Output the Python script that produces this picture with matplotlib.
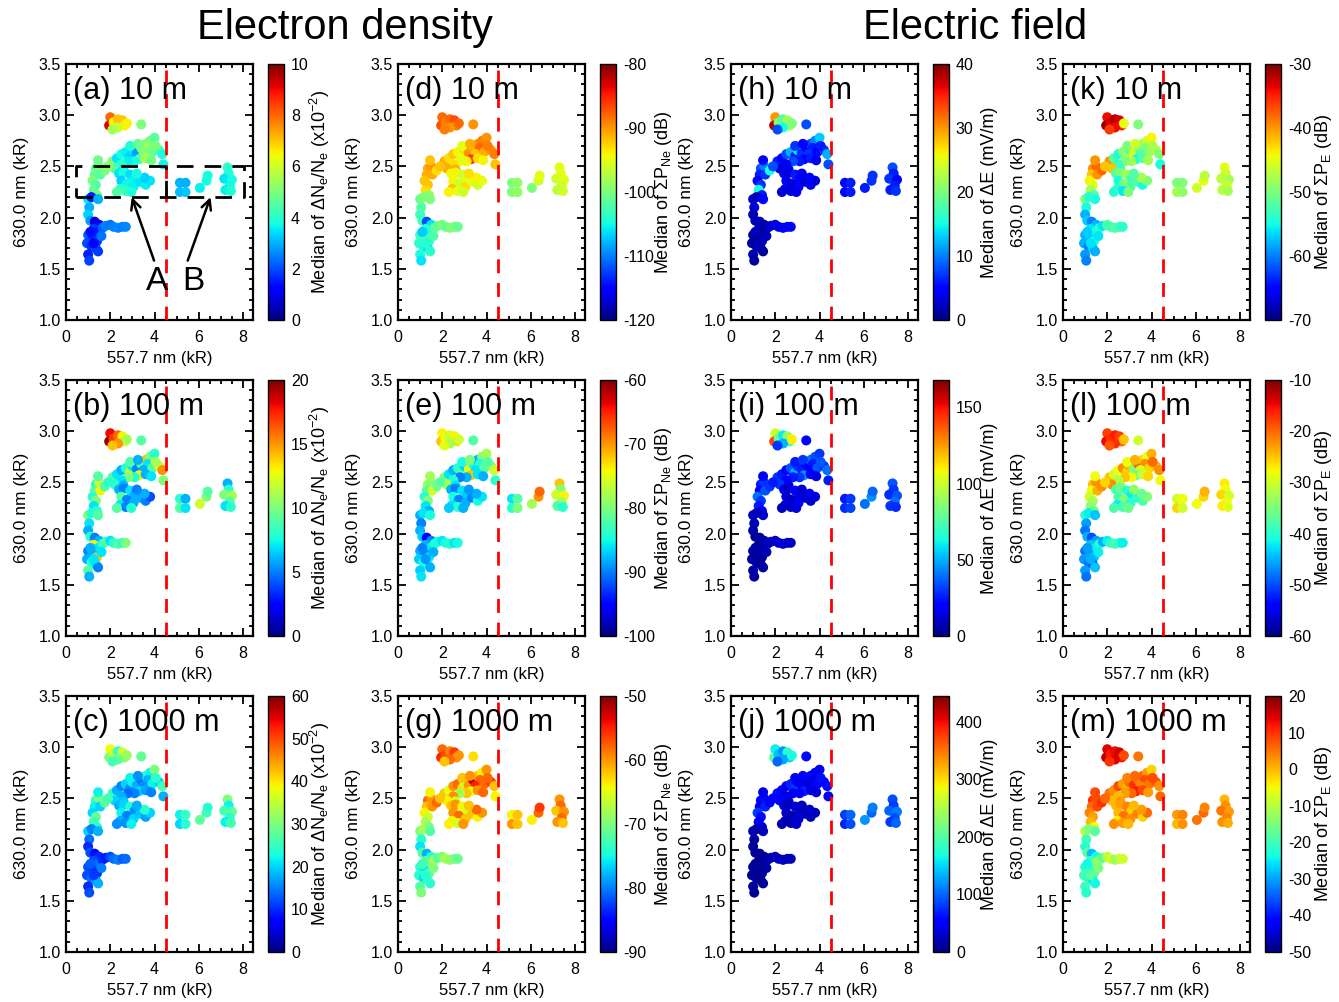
import matplotlib
matplotlib.use('Agg')
import matplotlib.pyplot as plt
import numpy as np

plt.rcParams['font.family'] = ['Liberation Sans', 'DejaVu Sans']
plt.rcParams['mathtext.default'] = 'regular'
plt.rcParams['axes.unicode_minus'] = False

# ---------------- point positions (557.7 nm, 630.0 nm) ----------------
# groups: top(10), upper arm(28), mid box A(16), left arm(11), low(24), blob(5), box B(14)
x_vals = ([2.0, 1.95, 2.15, 2.35, 2.55, 2.65, 2.35, 2.1, 2.75, 3.4] +
          [2.1, 2.3, 2.5, 2.7, 2.9, 3.0, 3.2, 3.4, 3.6, 3.8, 4.0, 3.7, 3.5, 3.3, 3.1, 2.8,
           2.5, 3.9, 4.2, 4.35, 4.4, 3.6, 3.85, 2.2, 2.9, 3.25, 4.05, 2.6] +
          [2.4, 2.6, 2.9, 3.1, 2.5, 2.75, 3.05, 2.45, 2.7, 2.95, 3.35, 3.6, 3.8, 3.55, 3.2, 2.3] +
          [1.35, 1.5, 1.3, 1.2, 1.35, 1.25, 1.4, 1.55, 1.75, 1.9, 1.45] +
          [1.0, 1.15, 1.45, 1.05, 1.0, 1.1, 1.3, 1.5, 1.25, 1.45, 1.65, 1.8, 1.0, 1.2, 1.4, 1.6,
           0.95, 1.15, 1.35, 1.45, 1.0, 1.05, 1.25, 1.1] +
          [2.0, 2.15, 2.35, 2.55, 2.7] +
          [5.15, 5.4, 5.15, 5.4, 6.05, 6.35, 6.4, 7.3, 7.35, 7.15, 7.5, 7.4, 7.2, 7.45])
y_vals = ([2.98, 2.90, 2.93, 2.96, 2.95, 2.90, 2.88, 2.86, 2.92, 2.91] +
          [2.55, 2.58, 2.62, 2.64, 2.60, 2.66, 2.63, 2.68, 2.72, 2.75, 2.78, 2.68, 2.62, 2.57, 2.55, 2.55,
           2.52, 2.64, 2.66, 2.62, 2.52, 2.58, 2.56, 2.48, 2.70, 2.72, 2.70, 2.47] +
          [2.43, 2.44, 2.42, 2.38, 2.36, 2.33, 2.30, 2.28, 2.26, 2.25, 2.35, 2.32, 2.36, 2.39, 2.43, 2.25] +
          [2.48, 2.50, 2.42, 2.36, 2.32, 2.27, 2.22, 2.42, 2.46, 2.50, 2.56] +
          [2.18, 2.20, 2.18, 2.10, 2.03, 1.97, 1.96, 1.93, 1.89, 1.86, 1.90, 1.92, 1.83, 1.80, 1.77, 1.82,
           1.75, 1.72, 1.70, 1.67, 1.64, 1.58, 1.75, 1.86] +
          [1.93, 1.91, 1.90, 1.91, 1.91] +
          [2.34, 2.34, 2.25, 2.25, 2.29, 2.36, 2.41, 2.49, 2.43, 2.38, 2.37, 2.31, 2.27, 2.26])

# ---------------- colour values per panel ----------------
vals_a = ([8.0, 9.2, 6.5, 7.0, 7.0, 6.5, 6.0, 5.5, 6.5, 5.0] +
          [5.0, 3.5, 3.8, 3.6, 3.3, 3.5, 2.8, 5.0, 5.2, 5.0, 4.6, 5.3, 5.0, 4.5, 3.8, 3.6,
           4.0, 4.8, 4.3, 3.8, 3.7, 5.5, 4.9, 4.5, 3.9, 4.8, 5.0, 3.5] +
          [3.5, 3.8, 3.4, 3.6, 3.3, 3.7, 3.6, 4.0, 4.2, 3.9, 3.5, 3.6, 3.5, 3.3, 3.8, 4.5] +
          [4.6, 5.0, 4.8, 5.0, 4.5, 4.7, 4.9, 4.5, 5.0, 5.2, 4.8] +
          [3.5, 1.5, 3.0, 3.0, 3.3, 2.8, 0.8, 1.2, 1.8, 1.5, 2.2, 2.5, 2.2, 1.6, 1.8, 2.4,
           2.0, 1.7, 1.9, 1.8, 1.6, 1.9, 1.3, 1.4] +
          [2.4, 2.5, 2.6, 2.5, 2.6] +
          [3.0, 3.0, 3.1, 3.2, 3.6, 3.8, 3.8, 4.0, 3.9, 3.5, 3.8, 3.7, 3.6, 3.9])
vals_b = ([18, 19.5, 17, 16, 13, 12, 15, 14, 11, 9] +
          [9, 7, 6, 8, 12, 7, 5, 9, 14, 10, 8, 7, 6, 13, 8, 10, 7, 9, 12, 15, 10, 6, 7, 8, 9, 6, 11, 6] +
          [6, 5, 7, 6, 9, 5, 6, 7, 5, 8, 6, 5, 4, 6, 5, 9] +
          [8, 12, 9, 8, 10, 7, 8, 13, 9, 8, 9] +
          [10, 8, 9, 7, 6, 8, 5, 6, 13, 7, 8, 9, 5, 6, 14, 7, 6, 8, 7, 5, 9, 6, 7, 6] +
          [7, 8, 9, 8, 10] +
          [8, 6, 9, 7, 12, 10, 9, 6, 8, 10, 11, 9, 7, 8])
vals_c = ([38, 30, 35, 25, 36, 30, 28, 26, 32, 28] +
          [25, 18, 15, 20, 16, 22, 18, 14, 24, 22, 30, 18, 16, 20, 15, 14, 18, 22, 20, 26, 18, 17, 15, 20,
           22, 16, 24, 19] +
          [18, 20, 24, 16, 22, 15, 20, 18, 16, 22, 19, 17, 20, 24, 18, 16] +
          [25, 30, 22, 20, 28, 26, 24, 20, 28, 26, 22] +
          [20, 15, 18, 14, 10, 12, 8, 10, 12, 14, 10, 9, 12, 11, 10, 15, 12, 14, 16, 18, 10, 12, 11, 13] +
          [12, 14, 15, 13, 14] +
          [22, 25, 20, 24, 28, 26, 24, 30, 22, 26, 28, 24, 22, 26])
vals_d = ([-88, -87, -89, -88, -87, -89, -90, -89, -88, -90] +
          [-91, -93, -92, -94, -95, -93, -90, -91, -90, -89, -90, -88, -92, -86, -94, -95, -93, -91,
           -90, -89, -92, -93, -94, -91, -95, -91, -89, -91] +
          [-95, -94, -96, -95, -94, -96, -93, -92, -95, -96, -95, -96, -95, -94, -93, -94] +
          [-91, -90, -91, -92, -92, -93, -99, -91, -93, -92, -92] +
          [-101, -100, -100, -102, -103, -103, -112, -106, -104, -105, -102, -101, -103, -103, -104,
           -102, -104, -105, -106, -104, -105, -106, -104, -107] +
          [-100, -101, -100, -100, -101] +
          [-100, -99, -100, -99, -100, -96, -95, -95, -95, -96, -95, -96, -97, -96])
vals_e = ([-74, -72, -75, -76, -74, -73, -78, -75, -76, -82] +
          [-80, -86, -88, -84, -82, -87, -75, -85, -88, -80, -78, -84, -86, -72, -88, -90, -84, -82,
           -80, -76, -84, -86, -88, -78, -85, -80, -82, -86] +
          [-88, -90, -86, -87, -85, -90, -88, -86, -84, -88, -90, -85, -86, -88, -89, -87] +
          [-78, -80, -82, -84, -80, -86, -88, -76, -80, -82, -78] +
          [-88, -86, -85, -90, -88, -87, -95, -90, -88, -86, -84, -85, -88, -90, -86, -88, -87, -85,
           -84, -88, -87, -86, -89, -90] +
          [-86, -85, -84, -86, -85] +
          [-86, -82, -84, -80, -78, -70, -68, -72, -80, -76, -74, -78, -82, -84])
vals_g = ([-58, -55, -57, -59, -56, -60, -58, -62, -60, -63] +
          [-62, -65, -60, -58, -63, -66, -60, -52, -62, -64, -60, -58, -55, -65, -62, -68, -60, -58,
           -56, -62, -64, -60, -58, -64, -62, -60, -58, -66] +
          [-62, -60, -64, -66, -60, -58, -62, -64, -66, -60, -62, -64, -60, -58, -62, -64] +
          [-58, -60, -62, -64, -66, -68, -70, -60, -58, -62, -64] +
          [-70, -68, -72, -74, -76, -72, -78, -74, -72, -70, -68, -72, -74, -76, -72, -70, -74, -76,
           -72, -74, -72, -70, -74, -73] +
          [-70, -68, -69, -70, -71] +
          [-64, -62, -60, -62, -64, -58, -56, -60, -58, -62, -60, -58, -60, -62])
vals_h = ([30, 38, 20, 18, 22, 22, 15, 8, 20, 8] +
          [6, 5, 8, 12, 6, 14, 7, 5, 8, 10, 13, 6, 7, 5, 6, 8, 4, 5, 7, 12, 8, 6, 4, 3, 7, 5, 6, 5] +
          [4, 3, 6, 5, 4, 3, 5, 4, 3, 4, 3, 4, 3, 5, 4, 3] +
          [8, 10, 6, 5, 7, 15, 6, 7, 15, 8, 5] +
          [3, 2, 5, 3, 2, 2, 2, 1, 2, 1, 2, 3, 1, 1, 2, 2, 1, 1, 2, 1, 2, 1, 2, 2] +
          [3, 4, 4, 5, 5] +
          [5, 6, 5, 6, 6, 7, 7, 8, 6, 7, 5, 6, 6, 7])
vals_i = ([100, 140, 80, 60, 90, 70, 50, 30, 110, 20] +
          [30, 25, 20, 35, 50, 30, 25, 20, 40, 35, 30, 25, 20, 45, 30, 25, 20, 35, 30, 40, 25, 20, 15,
           30, 25, 30, 35, 20] +
          [15, 10, 20, 15, 12, 10, 18, 14, 10, 15, 12, 10, 14, 16, 12, 10] +
          [25, 30, 20, 40, 30, 25, 20, 35, 30, 25, 20] +
          [10, 8, 12, 8, 6, 5, 4, 6, 5, 6, 8, 10, 5, 4, 6, 8, 5, 6, 4, 5, 6, 5, 4, 6] +
          [10, 12, 14, 12, 10] +
          [25, 30, 28, 32, 40, 45, 38, 35, 30, 28, 35, 40, 30, 28])
vals_j = ([160, 200, 140, 120, 180, 150, 130, 100, 170, 60] +
          [60, 50, 40, 70, 80, 55, 45, 35, 60, 50, 45, 40, 35, 70, 50, 45, 40, 55, 50, 60, 45, 40, 35,
           50, 45, 55, 60, 40] +
          [30, 25, 35, 30, 25, 20, 30, 25, 20, 30, 25, 20, 25, 30, 25, 20] +
          [50, 60, 40, 80, 60, 45, 35, 70, 55, 50, 45] +
          [20, 15, 25, 15, 10, 12, 8, 10, 12, 10, 15, 18, 10, 8, 12, 15, 10, 12, 8, 10, 12, 10, 8, 12] +
          [20, 25, 28, 25, 22] +
          [80, 100, 70, 90, 120, 100, 110, 90, 80, 100, 110, 90, 80, 100])
vals_k = ([-34, -31, -33, -32, -33, -35, -34, -36, -45, -50] +
          [-40, -52, -55, -50, -48, -52, -45, -50, -48, -46, -44, -50, -52, -55, -48, -50, -53, -49,
           -47, -50, -55, -52, -48, -42, -50, -46, -48, -53] +
          [-52, -50, -48, -53, -55, -50, -52, -54, -56, -50, -52, -55, -50, -48, -52, -54] +
          [-40, -38, -42, -44, -45, -48, -52, -40, -38, -42, -40] +
          [-50, -54, -55, -55, -58, -57, -60, -58, -56, -55, -54, -56, -58, -57, -55, -56, -58, -60,
           -57, -58, -59, -60, -56, -57] +
          [-52, -53, -52, -53, -54] +
          [-50, -50, -48, -49, -46, -45, -47, -45, -46, -47, -48, -46, -47, -48])
vals_l = ([-18, -15, -17, -16, -18, -20, -17, -19, -25, -30] +
          [-25, -30, -28, -22, -26, -24, -35, -20, -26, -28, -24, -22, -30, -36, -28, -25, -32, -26,
           -24, -22, -28, -30, -26, -22, -28, -24, -20, -32] +
          [-38, -36, -40, -42, -38, -35, -40, -42, -38, -36, -40, -38, -35, -36, -34, -38] +
          [-25, -22, -28, -30, -32, -34, -36, -24, -22, -26, -28] +
          [-40, -42, -44, -46, -48, -45, -50, -46, -44, -42, -40, -45, -48, -46, -44, -42, -46, -48,
           -50, -44, -46, -48, -45, -46] +
          [-42, -40, -38, -40, -42] +
          [-30, -28, -26, -30, -28, -26, -24, -27, -28, -26, -30, -28, -27, -29])
vals_m = ([14, 16, 12, 13, 15, 12, 14, 10, 8, 5] +
          [5, 3, 8, 2, 0, 6, 10, 4, 6, 2, -2, 8, 4, 12, 6, 2, 0, 5, 7, 3, 6, 8, 2, 0, 4, 6, 8, 2] +
          [0, 2, 4, -2, 0, 5, 3, -4, 2, 0, 4, -2, 6, 2, 0, 3] +
          [10, 8, 6, 4, 2, 0, -5, 8, 10, 6, 8] +
          [-10, -15, -18, -20, -22, -18, -28, -24, -20, -15, -12, -18, -22, -20, -18, -15, -20, -22,
           -25, -24, -20, -22, -18, -24] +
          [-10, -8, -12, -10, -8] +
          [2, 4, 0, 3, 5, 6, 4, 0, 3, 5, 2, 4, 3, 1])

panel_labels = [['(a) 10 m', '(b) 100 m', '(c) 1000 m'],
                ['(d) 10 m', '(e) 100 m', '(g) 1000 m'],
                ['(h) 10 m', '(i) 100 m', '(j) 1000 m'],
                ['(k) 10 m', '(l) 100 m', '(m) 1000 m']]
panel_vals = [[vals_a, vals_b, vals_c], [vals_d, vals_e, vals_g],
              [vals_h, vals_i, vals_j], [vals_k, vals_l, vals_m]]
clims = [[(0, 10), (0, 20), (0, 60)], [(-120, -80), (-100, -60), (-90, -50)],
         [(0, 40), (0, 168), (0, 445)], [(-70, -30), (-60, -10), (-50, 20)]]
cticks = [[[0, 2, 4, 6, 8, 10], [0, 5, 10, 15, 20], [0, 10, 20, 30, 40, 50, 60]],
          [[-120, -110, -100, -90, -80], [-100, -90, -80, -70, -60], [-90, -80, -70, -60, -50]],
          [[0, 10, 20, 30, 40], [0, 50, 100, 150], [0, 100, 200, 300, 400]],
          [[-70, -60, -50, -40, -30], [-60, -50, -40, -30, -20, -10], [-50, -40, -30, -20, -10, 0, 10, 20]]]
cbar_labels = ['Median of ΔN$_e$/N$_e$ (x10$^{-2}$)', 'Median of ΣP$_{Ne}$ (dB)',
               'Median of ΔE (mV/m)', 'Median of ΣP$_E$ (dB)']
col_titles = ['Electron density', 'Electric field']

W, H = 1339, 1002
fig = plt.figure(figsize=(W / 100, H / 100), dpi=100)


def fr(left, top, w, h):
    return [left / W, 1 - (top + h) / H, w / W, h / H]


col_left = [66, 398, 731, 1063]
row_top = [64, 380, 696]
ax_w, ax_h = 187, 256
cb_off = [52, 64, 57, 58]

for c in range(4):
    for r in range(3):
        ax = fig.add_axes(fr(col_left[c], row_top[r], ax_w, ax_h))
        vmin, vmax = clims[c][r]
        sc = ax.scatter(x_vals, y_vals, c=panel_vals[c][r], cmap='jet', vmin=vmin, vmax=vmax,
                        s=52, linewidths=0, zorder=3)
        ax.axvline(4.5, color='red', lw=2, dashes=(5, 3.5), zorder=4)
        ax.set_xlim(0, 8.45)
        ax.set_ylim(1.0, 3.5)
        ax.set_xticks([0, 2, 4, 6, 8])
        ax.set_xticks(np.arange(0, 8.45, 0.5), minor=True)
        ax.set_yticks([1.0, 1.5, 2.0, 2.5, 3.0, 3.5])
        ax.set_yticks(np.arange(1.0, 3.51, 0.1), minor=True)
        ax.set_yticklabels(['1.0', '1.5', '2.0', '2.5', '3.0', '3.5'])
        ax.tick_params(which='both', direction='in', top=True, right=True, labelsize=11.5, width=1.3)
        ax.tick_params(which='major', length=6)
        ax.tick_params(which='minor', length=3)
        ax.tick_params(axis='x', pad=7)
        for s in ax.spines.values():
            s.set_linewidth(1.6)
        ax.text(0.5, -0.152, '557.7 nm (kR)', transform=ax.transAxes, ha='center', va='center',
                fontsize=12)
        ax.text(-0.24, 0.5, '630.0 nm (kR)', transform=ax.transAxes, ha='center', va='center',
                rotation=90, fontsize=12.5)
        ax.text(0.035, 0.955, panel_labels[c][r], transform=ax.transAxes, ha='left', va='top',
                fontsize=22, zorder=5)

        if c == 0 and r == 0:
            kw = dict(color='black', lw=2, dashes=(6, 4), zorder=5)
            ax.plot([0.45, 8.05, 8.05, 0.45, 0.45], [2.2, 2.2, 2.5, 2.5, 2.2], **kw)
            ax.plot([4.5, 4.5], [2.2, 2.5], **kw)
            ap = dict(arrowstyle='->,head_length=0.7,head_width=0.35', lw=1.8, color='black',
                      shrinkA=0, shrinkB=0)
            ax.annotate('', xy=(2.97, 2.2), xytext=(3.98, 1.58), arrowprops=ap, zorder=5)
            ax.annotate('', xy=(6.53, 2.2), xytext=(5.5, 1.58), arrowprops=ap, zorder=5)
            ax.text(4.1, 1.38, 'A', ha='center', va='center', fontsize=24, zorder=5)
            ax.text(5.75, 1.38, 'B', ha='center', va='center', fontsize=24, zorder=5)

        cax = fig.add_axes(fr(col_left[c] + 202, row_top[r], 16, ax_h))
        cb = fig.colorbar(sc, cax=cax)
        cb.set_ticks(cticks[c][r])
        cax.tick_params(length=0, labelsize=11.5, pad=5)
        cb.outline.set_linewidth(1.0)
        cax.text(cb_off[c] / 16, 0.5, cbar_labels[c], transform=cax.transAxes, rotation=90,
                 ha='center', va='center', fontsize=13)

fig.text(345 / W, 1 - 28 / H, col_titles[0], ha='center', va='center', fontsize=30)
fig.text(975 / W, 1 - 28 / H, col_titles[1], ha='center', va='center', fontsize=30)

fig.savefig('out.png', dpi=100)
